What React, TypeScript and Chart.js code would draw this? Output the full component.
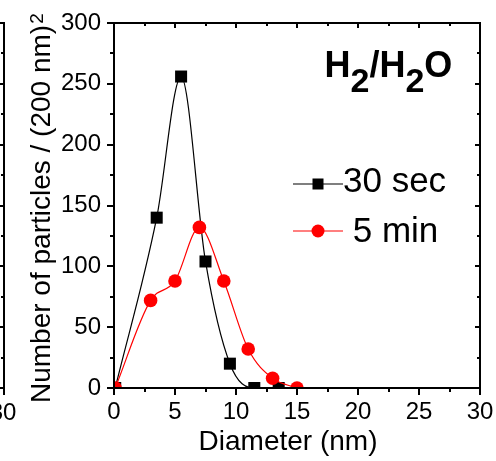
import React, { useEffect, useRef } from "react";
import { Chart, registerables } from "chart.js";

Chart.register(...registerables);

// ---- data ----
const seriesLabels = ["30 sec", " 5 min"];
const diameter30s = [0.1, 3.5, 5.5, 7.5, 9.5, 11.5, 13.5];
const count30s = [0, 140, 256, 104, 20, 0, 0];
const diameter5min = [0.1, 3, 5, 7, 9, 11, 13, 15];
const count5min = [0, 72, 88, 132, 88, 32, 8, 0];
const xTickValues = [0, 5, 10, 15, 20, 25, 30];
const yTickValues = [0, 50, 100, 150, 200, 250, 300];
const xTitle = "Diameter (nm)";
const yTitle = "Number of particles / (200 nm)";
const yTitleSup = "2";
const panelTitle: [string, boolean][] = [
  ["H", false],
  ["2", true],
  ["/H", false],
  ["2", true],
  ["O", false],
];
const prevPanelTick = "30";

const FONT = "'Liberation Sans', Arial, sans-serif";

const framePlugin = {
  id: "frame",
  afterDraw(chart: any) {
    const ctx = chart.ctx;
    const xs = chart.scales.x;
    const ys = chart.scales.y;
    const { left, right, top, bottom } = chart.chartArea;
    ctx.save();
    ctx.strokeStyle = "#000";
    ctx.fillStyle = "#000";
    ctx.lineWidth = 2;
    ctx.lineCap = "butt";
    // frame
    ctx.beginPath();
    ctx.moveTo(left, top - 1);
    ctx.lineTo(left, bottom + 1);
    ctx.moveTo(left - 1, bottom);
    ctx.lineTo(right + 1, bottom);
    ctx.moveTo(right, bottom + 1);
    ctx.lineTo(right, top - 1);
    ctx.moveTo(right + 1, top);
    ctx.lineTo(left - 1, top);
    ctx.stroke();

    // x ticks (major + minor halfway)
    const xStep = xTickValues[1] - xTickValues[0];
    ctx.beginPath();
    for (let i = 0; i < xTickValues.length; i++) {
      const vals = [xTickValues[i]];
      if (i < xTickValues.length - 1) vals.push(xTickValues[i] + xStep / 2);
      vals.forEach((v, k) => {
        const px = Math.round(xs.getPixelForValue(v));
        const major = k === 0;
        ctx.moveTo(px, bottom);
        ctx.lineTo(px, bottom + (major ? 7 : 4));
        ctx.moveTo(px, top);
        ctx.lineTo(px, top + (major ? 5 : 3));
      });
    }
    const yStep = yTickValues[1] - yTickValues[0];
    for (let i = 0; i < yTickValues.length; i++) {
      const vals = [yTickValues[i]];
      if (i < yTickValues.length - 1) vals.push(yTickValues[i] + yStep / 2);
      vals.forEach((v, k) => {
        const py = Math.round(ys.getPixelForValue(v));
        const major = k === 0;
        ctx.moveTo(left, py);
        ctx.lineTo(left - (major ? 7 : 4), py);
        ctx.moveTo(right, py);
        ctx.lineTo(right - (major ? 5 : 3), py);
        // previous panel's right axis ticks (cropped at left edge)
        ctx.moveTo(4, py);
        ctx.lineTo(major ? -1 : 1, py);
      });
    }
    ctx.stroke();

    // previous (cropped) panel axis edge
    ctx.beginPath();
    ctx.moveTo(4, top - 1);
    ctx.lineTo(4, bottom + 1);
    ctx.moveTo(-1, top);
    ctx.lineTo(5, top);
    ctx.moveTo(-1, bottom);
    ctx.lineTo(5, bottom);
    ctx.moveTo(4, bottom);
    ctx.lineTo(4, bottom + 7);
    ctx.stroke();

    ctx.font = `24px ${FONT}`;
    ctx.textAlign = "center";
    ctx.textBaseline = "alphabetic";
    ctx.fillText(prevPanelTick, 3, 420);

    // x title
    ctx.font = `28px ${FONT}`;
    ctx.textAlign = "center";
    ctx.fillText(xTitle, 288, 450);

    // y title (rotated) with superscript
    ctx.save();
    ctx.translate(50, 403);
    ctx.rotate(-Math.PI / 2);
    ctx.textAlign = "left";
    ctx.font = `28px ${FONT}`;
    ctx.fillText(yTitle, 0, 0);
    const w = ctx.measureText(yTitle).width;
    ctx.font = `19px ${FONT}`;
    ctx.fillText(yTitleSup, w + 1, -7);
    ctx.restore();

    // panel title with subscripts
    let tx = 324.5;
    ctx.textAlign = "left";
    panelTitle.forEach(([t, sub]) => {
      ctx.font = `bold ${sub ? 34 : 36}px ${FONT}`;
      ctx.fillText(t, tx, sub ? 92 : 77);
      tx += ctx.measureText(t).width;
    });

    // legend
    const legendY = [184, 231];
    const textBase = [192, 242];
    chart.data.datasets.forEach((ds: any, i: number) => {
      ctx.strokeStyle = ds.borderColor;
      ctx.fillStyle = ds.backgroundColor;
      ctx.lineWidth = 1.2;
      ctx.beginPath();
      ctx.moveTo(293, legendY[i]);
      ctx.lineTo(343, legendY[i]);
      ctx.stroke();
      if (ds.pointStyle === "rect") {
        ctx.fillRect(318 - 5.5, legendY[i] - 5.5, 11, 11);
      } else {
        ctx.beginPath();
        ctx.arc(318, legendY[i], 6.5, 0, Math.PI * 2);
        ctx.fill();
      }
      ctx.fillStyle = "#000";
      ctx.font = `35px ${FONT}`;
      ctx.textAlign = "left";
      ctx.fillText(ds.label, 343, textBase[i]);
    });
    ctx.restore();
  },
};

const zeroPad = (s: any) => {
  s.paddingLeft = 0;
  s.paddingRight = 0;
  s.paddingTop = 0;
  s.paddingBottom = 0;
};

export default function App() {
  const ref = useRef<HTMLCanvasElement | null>(null);
  useEffect(() => {
    document.body.style.margin = "0";
    const canvas = ref.current!;
    const chart = new Chart(canvas, {
      type: "line",
      data: {
        datasets: [
          {
            label: seriesLabels[0],
            data: diameter30s.map((x, i) => ({ x, y: count30s[i] })),
            borderColor: "#000000",
            backgroundColor: "#000000",
            borderWidth: 1.2,
            pointStyle: "rect",
            pointRadius: 8.5,
            pointBorderWidth: 0,
            cubicInterpolationMode: "monotone",
            order: 2,
          },
          {
            label: seriesLabels[1],
            data: diameter5min.map((x, i) => ({ x, y: count5min[i] })),
            borderColor: "#ff0000",
            backgroundColor: "#ff0000",
            borderWidth: 1.2,
            pointStyle: "circle",
            pointRadius: 6.8,
            pointBorderWidth: 0,
            cubicInterpolationMode: "monotone",
            order: 1,
          },
        ] as any,
      },
      options: {
        animation: false,
        responsive: false,
        maintainAspectRatio: false,
        layout: { padding: { left: 0, top: 23, right: 16, bottom: 0 } },
        plugins: { legend: { display: false }, tooltip: { enabled: false } },
        scales: {
          x: {
            type: "linear",
            min: 0,
            max: 30,
            afterBuildTicks: (s: any) => {
              s.ticks = xTickValues.map((v) => ({ value: v }));
            },
            grid: { display: false, drawTicks: false },
            border: { display: false },
            ticks: {
              font: { family: FONT, size: 24 },
              color: "#000",
              padding: 10,
              maxRotation: 0,
              autoSkip: false,
            },
            afterFit: (s: any) => {
              s.height = 73;
              zeroPad(s);
            },
          },
          y: {
            type: "linear",
            min: 0,
            max: 300,
            afterBuildTicks: (s: any) => {
              s.ticks = yTickValues.map((v) => ({ value: v }));
            },
            grid: { display: false, drawTicks: false },
            border: { display: false },
            ticks: {
              font: { family: FONT, size: 24 },
              color: "#000",
              padding: 13,
              autoSkip: false,
            },
            afterFit: (s: any) => {
              s.width = 114;
              zeroPad(s);
            },
          },
        },
      } as any,
      plugins: [framePlugin],
    });
    return () => chart.destroy();
  }, []);
  return (
    <div style={{ width: 496, height: 461, position: "relative", background: "#fff" }}>
      <canvas ref={ref} width={496} height={461} style={{ width: 496, height: 461, display: "block" }} />
    </div>
  );
}
